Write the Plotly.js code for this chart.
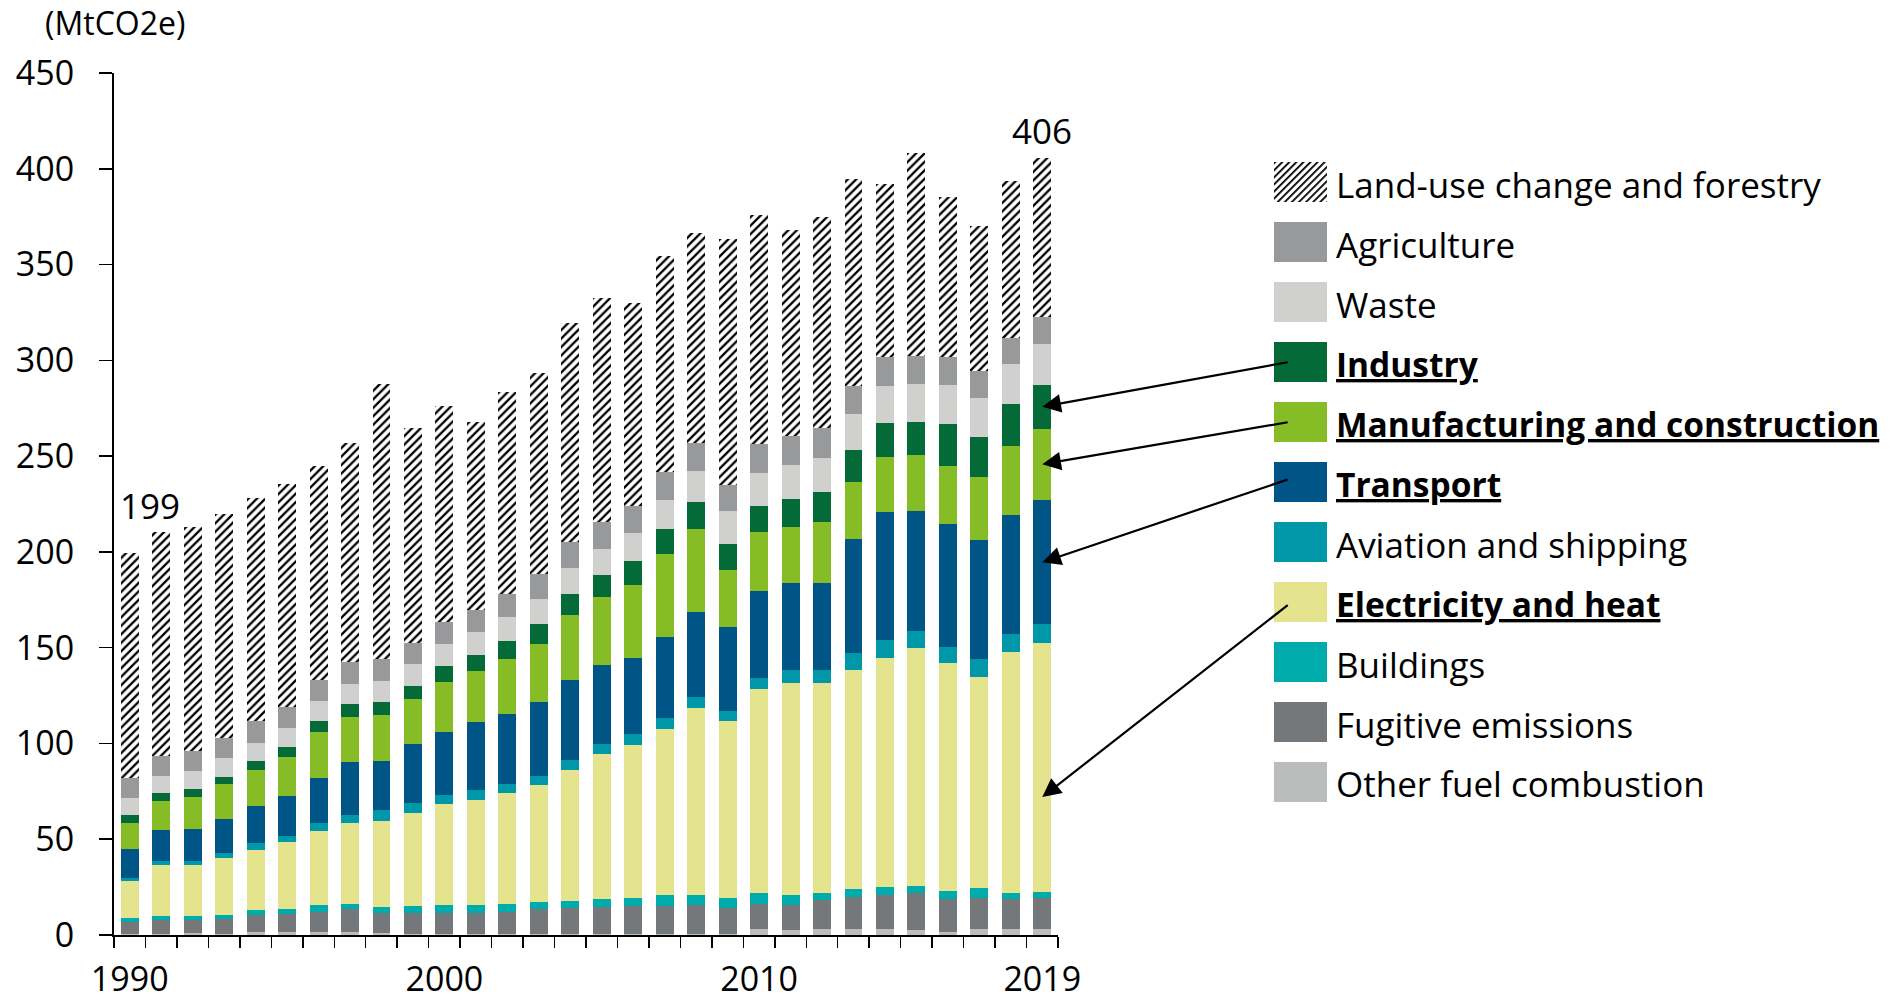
<!DOCTYPE html>
<html>
<head>
<meta charset="utf-8">
<script src="https://cdn.plot.ly/plotly-3.0.1.min.js"></script>
<style>
  html, body { margin: 0; padding: 0; background: #fff; }
  #chart { width: 1902px; height: 1001px; }
</style>
</head>
<body>
<div id="chart"></div>
<script>
// ---------- data (MtCO2e) ----------
const years = [1990,1991,1992,1993,1994,1995,1996,1997,1998,1999,2000,2001,2002,2003,2004,2005,2006,2007,2008,2009,2010,2011,2012,2013,2014,2015,2016,2017,2018,2019];
const yearTickLabels = [1990, 2000, 2010, 2019];

const otherFuel     = [0.3,0.3,1.0,0.3,1.4,1.4,1.4,1.4,0.9,0.3,0.3,0.3,0.3,0.3,0.3,0.3,0.7,0.7,0.7,0.7,3.1,2.6,2.9,2.9,2.9,2.4,1.4,2.9,2.9,2.9];
const fugitive      = [6.7,7.4,6.7,7.9,9.0,9.4,10.6,12.0,10.8,11.0,11.4,11.4,11.5,13.1,13.7,14.4,14.2,14.2,14.8,13.5,13.0,13.1,15.2,16.9,18.1,19.3,17.5,16.6,15.8,16.2];
const buildings     = [2.0,2.2,2.4,2.4,2.8,2.9,3.8,3.0,3.1,3.8,4.1,3.9,4.3,3.6,3.8,4.0,4.2,5.9,5.3,5.1,5.8,5.3,4.0,4.4,4.3,4.0,4.1,5.1,3.2,3.4];
const electricity   = [19.2,26.6,26.3,29.8,31.3,34.7,38.7,42.1,44.9,48.6,52.7,55.0,58.0,61.3,68.6,75.8,80.1,86.7,97.8,92.3,106.5,110.6,109.5,114.4,119.5,124.0,119.0,110.2,125.9,129.7];
const aviation      = [1.7,2.1,2.0,2.2,3.5,3.3,4.0,4.1,5.5,5.2,4.6,4.9,4.9,4.7,5.1,5.1,5.8,5.6,5.6,5.3,5.9,6.8,6.6,8.5,9.2,9.0,8.2,9.1,9.4,9.9];
const transport     = [15.0,16.0,17.1,18.1,19.5,21.0,23.6,27.5,25.8,31.0,33.0,35.5,36.5,38.8,41.8,41.6,39.6,42.4,44.5,43.7,45.4,45.6,45.4,59.7,66.7,62.8,64.5,62.5,62.1,65.0];
const manufacturing = [13.6,15.5,16.7,17.9,18.6,20.4,24.0,23.9,23.8,23.3,25.9,26.8,28.6,30.0,33.9,35.4,38.3,43.6,43.2,30.0,30.7,29.0,32.2,29.5,28.7,28.9,29.9,32.7,35.8,37.3];
const industry      = [4.1,4.0,4.0,3.9,4.5,4.8,5.6,6.4,6.6,6.8,8.4,8.3,9.3,10.7,11.0,11.2,12.4,12.8,14.1,13.6,13.4,14.4,15.4,16.9,17.9,17.4,22.4,20.7,22.0,22.8];
const waste         = [8.9,9.1,9.4,9.7,9.8,10.1,10.6,10.6,11.0,11.3,11.5,12.0,12.6,12.8,13.2,13.9,14.5,15.3,16.0,17.0,17.5,18.0,17.8,18.7,19.2,19.8,20.1,20.3,20.9,21.2];
const agriculture   = [10.4,10.4,10.4,10.8,11.1,11.0,10.6,11.7,11.7,11.3,11.5,11.5,12.0,13.2,13.7,14.1,14.1,14.6,14.8,13.7,15.0,15.3,15.6,14.6,15.0,14.9,14.6,14.5,13.6,14.1];
const landUse       = [117.3,116.7,116.8,116.7,116.8,116.7,112.1,113.9,143.3,112.2,112.9,98.0,105.4,105.1,114.2,116.8,105.8,112.9,109.8,128.2,119.8,107.2,110.1,108.4,90.8,106.0,83.8,75.3,81.8,83.1];

// series, bottom of stack first
const seriesNames = ["Other fuel combustion","Fugitive emissions","Buildings","Electricity and heat","Aviation and shipping","Transport","Manufacturing and construction","Industry","Waste","Agriculture","Land-use change and forestry"];
const seriesValues = [otherFuel, fugitive, buildings, electricity, aviation, transport, manufacturing, industry, waste, agriculture, landUse];
const seriesColors = ["#bbbcbc","#75787b","#00abab","#e3e48d","#0097a9","#005587","#86bc25","#046a38","#d0d0ce","#97999b","hatch"];
const legendOrder = ["Land-use change and forestry","Agriculture","Waste","Industry","Manufacturing and construction","Transport","Aviation and shipping","Electricity and heat","Buildings","Fugitive emissions","Other fuel combustion"];
const highlighted = ["Industry","Manufacturing and construction","Transport","Electricity and heat"];

// ---------- geometry helpers (pixel -> paper) ----------
const W = 1902, H = 1001;
const M = {l: 114, r: 844, t: 73, b: 66};
const PW = W - M.l - M.r, PH = H - M.t - M.b;
const px = x => (x - M.l) / PW;
const py = y => (H - M.b - y) / PH;

const FONT = "Open Sans, Noto Sans, sans-serif";

// ---------- traces ----------
const traces = seriesNames.map((name, i) => {
  const isHatch = seriesColors[i] === "hatch";
  const marker = isHatch
    ? {color: "white", line: {width: 0},
       pattern: {shape: "/", fgcolor: "black", bgcolor: "white", size: 6, solidity: 0.38, fillmode: "replace"}}
    : {color: seriesColors[i], line: {width: 0}};
  return {
    type: "bar", name: name, x: years, y: seriesValues[i],
    width: 0.57, marker: marker, showlegend: false, hoverinfo: "x+y+name"
  };
});

// totals
const totals = years.map((_, k) => seriesValues.reduce((s, arr) => s + arr[k], 0));
const nLast = years.length - 1;

// ---------- legend (shapes + annotations) ----------
const shapes = [];
const annotations = [];
const images = [];
const rowY0 = 182, rowStep = 60;
const swX0 = 1274, swX1 = 1327, swH = 40;
legendOrder.forEach((name, r) => {
  const cy = rowY0 + r * rowStep;
  const idx = seriesNames.indexOf(name);
  if (seriesColors[idx] === "hatch") {
    const svg = "<svg xmlns='http://www.w3.org/2000/svg' width='53' height='40'><defs>" +
      "<pattern id='p' width='5' height='5' patternUnits='userSpaceOnUse' patternTransform='rotate(45)'>" +
      "<rect width='5' height='5' fill='white'/><rect width='1.8' height='5' fill='black'/></pattern></defs>" +
      "<rect width='53' height='40' fill='url(#p)'/></svg>";
    images.push({
      source: "data:image/svg+xml;charset=utf-8," + encodeURIComponent(svg),
      xref: "paper", yref: "paper", x: px(swX0), y: py(cy - swH / 2),
      sizex: px(swX1) - px(swX0), sizey: py(cy - swH / 2) - py(cy + swH / 2),
      sizing: "stretch", xanchor: "left", yanchor: "top", layer: "above"
    });
  } else {
    shapes.push({
      type: "rect", xref: "paper", yref: "paper",
      x0: px(swX0), x1: px(swX1), y0: py(cy + swH / 2), y1: py(cy - swH / 2),
      fillcolor: seriesColors[idx], line: {width: 0}
    });
  }
  const isHi = highlighted.includes(name);
  const txt = isHi ? "<b><u>" + name + "</u></b>" : name;
  annotations.push({
    xref: "paper", yref: "paper", x: px(1334), y: py(cy + 2),
    xanchor: "left", yanchor: "middle", showarrow: false,
    text: txt, font: {family: FONT, size: isHi ? 33.5 : 35, color: "#000"}
  });
});

// arrows from legend swatches to the 2019 bar
const cum = k => { let s = 0; return seriesValues.map(arr => (s += arr[k])); };
const c19 = cum(nLast);
const mid = i => (i === 0 ? seriesValues[0][nLast] / 2 : (c19[i - 1] + c19[i]) / 2);
const arrowDefs = [
  {series: "Industry",                       tipY: mid(7), tail: [1274, 362]},
  {series: "Manufacturing and construction", tipY: mid(6), tail: [1274, 422]},
  {series: "Transport",                      tipY: mid(5), tail: [1274, 479]},
  {series: "Electricity and heat",           tipY: 72,     tail: [1274, 604]}
];
arrowDefs.forEach(a => {
  const tipPxX = M.l + (2019 - 1989.5) / 30 * PW - 15.7 + 0.5;
  const tipPxY = H - M.b - a.tipY / 450 * PH;
  annotations.push({
    x: 2019, y: a.tipY, xref: "x", yref: "y", text: "",
    showarrow: true, arrowhead: 2, arrowsize: 1.7, arrowwidth: 2.2, arrowcolor: "#000",
    ax: a.tail[0] - tipPxX, ay: a.tail[1] - tipPxY, axref: "pixel", ayref: "pixel",
    standoff: 0
  });
});

// total labels
annotations.push({
  x: years[0], y: totals[0], xref: "x", yref: "y", text: String(Math.round(totals[0])),
  showarrow: false, xanchor: "center", yanchor: "middle", xshift: 20, yshift: 48,
  font: {family: FONT, size: 35, color: "#000"}
});
annotations.push({
  x: years[nLast], y: totals[nLast], xref: "x", yref: "y", text: String(Math.round(totals[nLast])),
  showarrow: false, xanchor: "center", yanchor: "middle", xshift: 0, yshift: 28,
  font: {family: FONT, size: 35, color: "#000"}
});

// unit label
annotations.push({
  xref: "paper", yref: "paper", x: px(115), y: py(23), xanchor: "center", yanchor: "middle",
  showarrow: false, text: "(MtCO2e)", font: {family: FONT, size: 32, color: "#000"}
});

// boundary ticks between years
const boundaryTicks = years.map(y => y - 0.5).concat([years[nLast] + 0.5]);

const layout = {
  width: W, height: H,
  margin: M,
  paper_bgcolor: "white", plot_bgcolor: "white",
  barmode: "stack",
  showlegend: false,
  font: {family: FONT, color: "#000"},
  xaxis: {
    range: [1989.5, 2019.5], showgrid: false, zeroline: false,
    showline: true, linecolor: "#000", linewidth: 2,
    tickmode: "array", tickvals: boundaryTicks, ticktext: boundaryTicks.map(() => ""),
    ticks: "outside", ticklen: 11, tickwidth: 1.5, tickcolor: "#000", fixedrange: true
  },
  xaxis2: {
    overlaying: "x", anchor: "y", side: "bottom", range: [1989.5, 2019.5],
    showgrid: false, zeroline: false, showline: false, ticks: "",
    tickmode: "array", tickvals: yearTickLabels, ticktext: yearTickLabels.map(String),
    tickfont: {family: FONT, size: 34, color: "#000"}, ticklabelstandoff: 21
  },
  yaxis: {
    range: [0, 450], showgrid: false, zeroline: false,
    showline: true, linecolor: "#000", linewidth: 2,
    tickmode: "array", tickvals: [0,50,100,150,200,250,300,350,400,450],
    ticks: "outside", ticklen: 13, tickwidth: 1.5, tickcolor: "#000",
    tickfont: {family: FONT, size: 34, color: "#000"}, ticklabelstandoff: 18
  },
  shapes: shapes,
  annotations: annotations,
  images: images
};

// invisible helper trace so the year-label axis is drawn
traces.push({type: "scatter", x: [years[0]], y: [0], xaxis: "x2", yaxis: "y", mode: "markers",
  marker: {opacity: 0}, showlegend: false, hoverinfo: "skip"});

Plotly.newPlot("chart", traces, layout, {staticPlot: true, displayModeBar: false});
</script>
</body>
</html>
